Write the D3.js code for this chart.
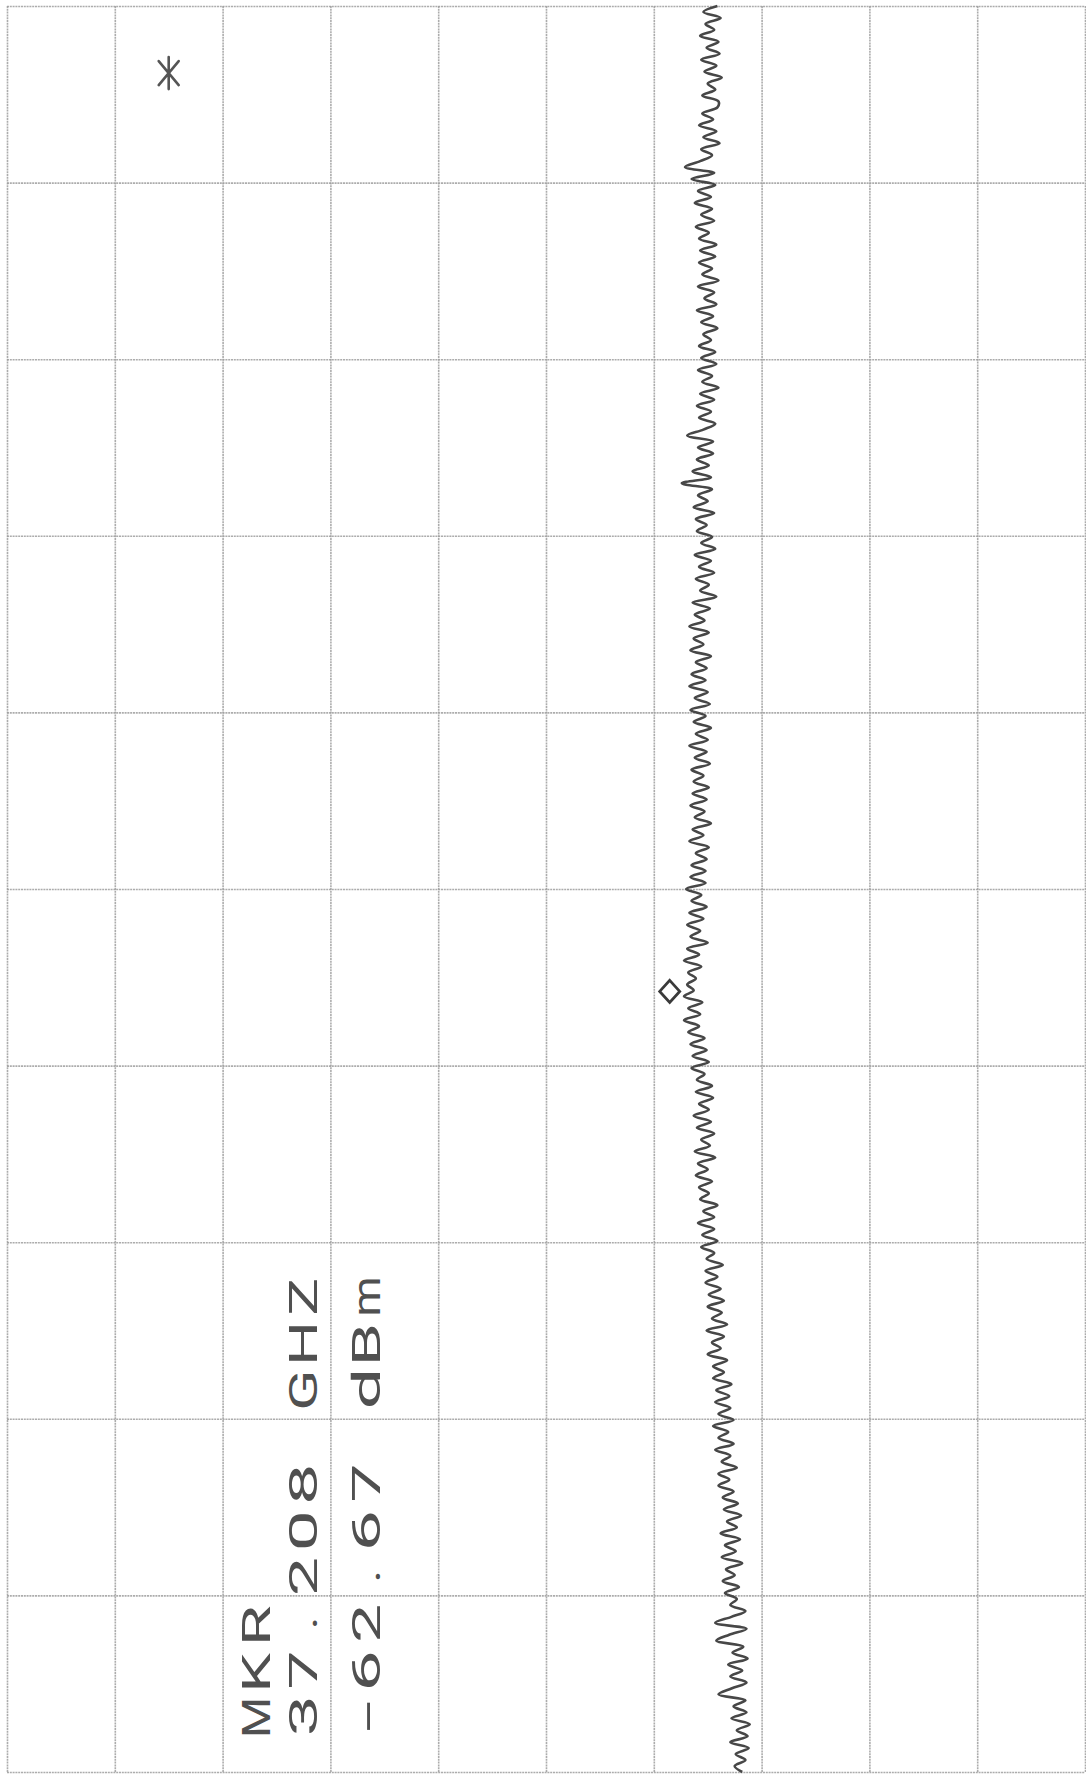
<!DOCTYPE html>
<html><head><meta charset="utf-8">
<script src="https://cdn.jsdelivr.net/npm/d3@7"></script>
<style>html,body{margin:0;padding:0;background:#fff;} svg{display:block;}</style>
</head><body>
<svg id="chart" width="1086" height="1775"></svg>
<script>
// Frequency axis (vertical on the plot), GHz
const freqStart = 36.65, freqStop = 37.65;
const freqTicks = [36.65, 36.75, 36.85, 36.95, 37.05, 37.15, 37.25, 37.35, 37.45, 37.55, 37.65];
// Level axis (horizontal on the plot), dBm, 10 dB/div
const levelTicks = [-126, -116, -106, -96, -86, -76, -66, -56, -46, -36, -26];

// Trace levels (dBm), evenly spaced in frequency from freqStart to freqStop
const traceLevels = [
  -60.1, -61.4, -59.8, -61.2, -60.4, -61.7, -60.0, -61.1, -59.9, -61.6, -60.2, -61.3, -59.7, -61.0, -60.3, -61.5, -60.0,
  -60.1, -61.5, -60.5, -61.8, -60.2, -61.4, -59.9, -61.6, -60.6, -61.7, -63.1, -60.4, -62.5,
  -60.3, -61.9, -60.7, -62.2, -60.6, -61.6, -60.4, -62.1, -60.9, -61.8, -60.2, -61.7,
  -60.3, -61.8, -60.6, -61.5, -60.0, -61.9, -60.4, -61.3, -60.2, -62.0, -60.5, -61.6, -60.1, -61.4, -60.7, -61.8, -60.3,
  -61.6, -60.2, -61.9, -60.6, -61.5, -60.0, -61.7, -60.4, -62.0, -60.7, -61.8, -60.3, -61.4, -62.9, -60.5, -61.9,
  -60.5, -62.0, -60.9, -62.4, -60.7, -63.4, -60.6, -61.9, -61.0, -62.3, -60.4, -62.1, -61.1,
  -62.0, -60.6, -61.6, -60.3, -62.2, -60.7, -61.8, -60.4, -62.1, -60.9, -61.7, -60.2,
  -62.4, -60.8, -62.2, -61.3, -62.7, -60.9, -62.3, -61.4, -62.6, -60.7, -62.1, -61.1, -62.5, -61.2, -62.7, -61.0, -62.2, -60.8,
  -62.6, -61.2, -62.3, -60.7, -62.1, -61.0, -62.7, -61.1, -62.2, -60.8, -62.5, -61.4, -62.3, -60.9, -62.4,
  -61.1, -62.6, -61.3, -62.2, -60.7, -62.4, -61.4, -62.7, -60.9, -62.1, -61.1, -62.5, -61.2,
  -62.6, -61.2, -63.0, -61.6, -62.5, -61.1, -62.7, -61.4, -62.9, -61.7, -62.6, -61.0,
  -62.9, -61.8, -63.2, -61.6, -62.8, -62.1, -62.9, -62.3, -63.2, -61.5, -62.8, -61.7, -63.2, -61.8, -62.8, -61.3, -62.6,
  -61.1, -62.4, -60.9, -62.5, -61.3, -62.0, -60.6, -62.1,
  -60.5, -61.8, -60.9, -62.3, -60.7, -62.0, -60.4, -61.6, -60.8, -62.2, -60.3, -61.9, -61.0, -62.1, -60.6, -61.8, -60.9,
  -61.7, -60.1, -61.4, -60.4, -61.9, -60.4, -61.5, -60.1, -61.6, -60.4, -61.1, -59.6, -61.2, -60.1, -61.2, -59.8, -60.9,
  -59.5, -61.0, -59.7, -60.6, -59.2, -61.1, -59.5, -60.6, -59.8, -61.0, -59.2, -60.5, -59.5, -60.5, -58.8, -60.2, -59.0,
  -60.3, -58.9, -60.0, -58.6, -60.5, -59.1, -60.0, -58.6, -60.3, -58.9, -59.7, -58.3, -60.0, -59.0, -60.0, -58.6, -59.6,
  -58.2, -59.5, -57.9, -59.2, -58.3, -59.8, -58.0, -59.4, -58.4, -59.7, -57.8, -59.3, -58.5, -59.6, -58.1, -59.4, -58.3,
  -58.9, -57.5, -58.8, -60.3, -57.4, -59.0, -60.2, -57.7, -58.7, -57.3, -59.1, -57.8, -58.9, -57.4, -58.8, -60.0, -57.5,
  -58.6, -57.4, -58.8, -57.1, -58.3, -57.3, -58.9, -57.2, -58.4, -57.5, -58.5, -57.8
];

// Marker
const markerFreq = 37.208;   // GHz
const markerLevel = -62.67;  // dBm
const markerLines = ["MKR", "37.208 GHZ", "-62.67 dBm"];
// "*" annotation position
const starFreq = 36.688, starLevel = -111;

const svg = d3.select("#chart");
const x = d3.scaleLinear().domain([levelTicks[0], levelTicks[levelTicks.length - 1]]).range([7, 1085]);
const y = d3.scaleLinear().domain([freqStart, freqStop]).range([6, 1772]);

// Grid
const gridColor = "#9e9e9e";
const gx = svg.append("g").attr("transform", `translate(0,${y.range()[0]})`)
  .call(d3.axisTop(x).tickValues(levelTicks).tickSize(-(y.range()[1] - y.range()[0])).tickFormat(""));
const gy = svg.append("g").attr("transform", `translate(${x.range()[0]},0)`)
  .call(d3.axisLeft(y).tickValues(freqTicks).tickSize(-(x.range()[1] - x.range()[0])).tickFormat(""));
[gx, gy].forEach(g => {
  g.select(".domain").remove();
  g.selectAll(".tick line").attr("stroke", gridColor).attr("stroke-width", 1.6)
    .attr("stroke-dasharray", "2 0.8").attr("opacity", 0.85);
});

// Trace
const n = traceLevels.length;
const traceData = traceLevels.map((v, i) => ({ freq: freqStart + i * (freqStop - freqStart) / (n - 1), level: v }));
svg.append("path").datum(traceData)
  .attr("fill", "none").attr("stroke", "#474747").attr("stroke-width", 2.6)
  .attr("stroke-linejoin", "round")
  .attr("d", d3.line().x(d => x(d.level)).y(d => y(d.freq)).curve(d3.curveCatmullRom.alpha(0.5)));

// Marker diamond (drawn just left of the trace point)
svg.append("path")
  .attr("transform", `translate(${x(markerLevel) - 20},${y(markerFreq)})`)
  .attr("d", "M0,-11 L10,0 L0,11 L-10,0 Z")
  .attr("fill", "none").attr("stroke", "#3a3a3a").attr("stroke-width", 2.8);

// Asterisk
svg.append("path")
  .attr("transform", `translate(${x(starLevel)},${y(starFreq)})`)
  .attr("d", "M0,-16 L0,16 M-10,-12 L10,12 M10,-12 L-10,12")
  .attr("fill", "none").attr("stroke", "#555").attr("stroke-width", 2.6).attr("stroke-linecap", "round");

// Marker readout text, rotated, plotter-style monospaced
const lineBase = [270, 317, 380];
const pitch = 46.7, firstCenter = 1717;
const fontSpec = "400 38px Roboto";
const ctx = document.createElement("canvas").getContext("2d");
ctx.font = fontSpec;
const tg = svg.append("g").attr("fill", "#505050")
  .style("font-family", "Roboto, 'DejaVu Sans', sans-serif").style("font-weight", 400).style("font-size", "38px");
markerLines.forEach((str, li) => {
  [...str].forEach((ch, ci) => {
    if (ch === " ") return;
    const cy = firstCenter - ci * pitch;
    const m = ctx.measureText(ch);
    const left = -m.actualBoundingBoxLeft, right = m.actualBoundingBoxRight;
    const inkW = Math.max(1, right - left);
    let target = 35;
    if (ch === ".") target = inkW * 1.3;
    if (ch === "-") target = 30;
    const s = target / inkW;
    tg.append("text").text(ch).attr("x", 0).attr("y", 0)
      .attr("transform", `translate(${lineBase[li]},${cy}) rotate(-90) scale(${s},1) translate(${-(left + right) / 2},0)`);
  });
});
</script>
</body></html>
